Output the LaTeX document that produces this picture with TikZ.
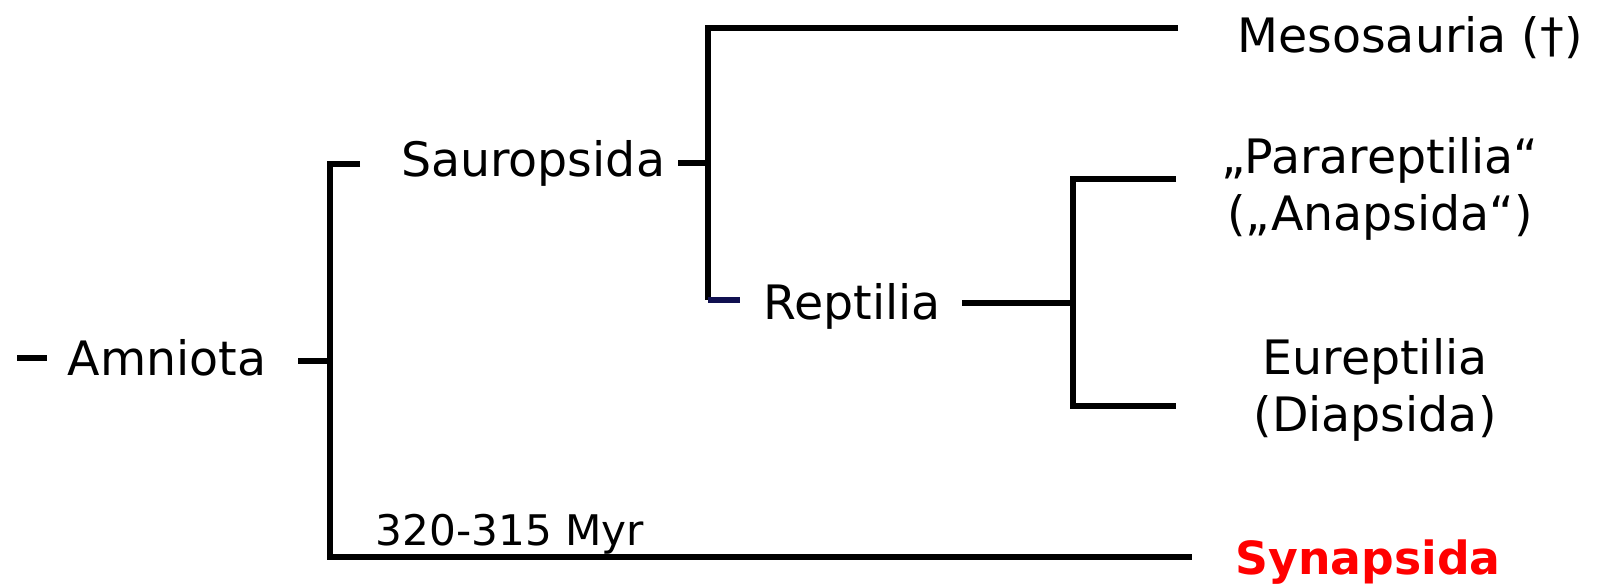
\documentclass[tikz,border=0pt]{standalone}
\usepackage{fontspec}
\setmainfont{DejaVu Sans}
\usetikzlibrary{positioning}
\definecolor{stubnavy}{RGB}{16,16,80}
\definecolor{synred}{RGB}{255,0,0}

\begin{document}
\begin{tikzpicture}[x=0.02cm,y=-0.02cm,line width=3.1pt,
    taxon/.style={inner sep=0pt,align=center,font=\fontsize{27}{32.4}\selectfont}]
   \useasboundingbox (0,0) rectangle (1602,588);

   % labels
   \node[taxon,anchor=base] (amniota) at (167,375) {Amniota};
   \node[taxon,anchor=base] (sauropsida) at (533,176) {Sauropsida};
   \node[taxon,anchor=base] (reptilia) at (852,319) {Reptilia};
   \node[taxon,anchor=base] (mesosauria) at (1410,53) {Mesosauria (†)};
   \node[taxon] (parareptilia) at (1380,189) {„Parareptilia“\\(„Anapsida“)};
   \node[taxon] (eureptilia) at (1375,390) {Eureptilia\\(Diapsida)};
   \node[taxon,anchor=base,font=\fontsize{26}{30}\selectfont\bfseries,text=synred] (synapsida) at (1368,574) {Synapsida};
   \node[taxon,anchor=base,font=\fontsize{24}{28}\selectfont] (age) at (510,545) {320-315 Myr};

   % branch points
   \coordinate (stem) at (17,358);
   \coordinate (stemend) at (47,358);
   \coordinate (amniotaout) at (298,361);
   \coordinate (root) at (330,361);
   \coordinate (sauroin) at (360,164);
   \coordinate (sauroknee) at (330,164);
   \coordinate (synknee) at (330,557);
   \coordinate (synend) at (1192,557);
   \coordinate (sauroout) at (678,163);
   \coordinate (saurojoin) at (708,163);
   \coordinate (mesoknee) at (708,28);
   \coordinate (mesoend) at (1178,28);
   \coordinate (repknee) at (708,300);
   \coordinate (repin) at (740,300);
   \coordinate (repout) at (962,303);
   \coordinate (repjoin) at (1073,303);
   \coordinate (paraknee) at (1073,179);
   \coordinate (paraend) at (1176,179);
   \coordinate (euknee) at (1073,406);
   \coordinate (euend) at (1176,406);

   \draw (stem) -- (stemend);
   \draw (amniotaout) -- (root);
   \draw (sauroin) -- (sauroknee) -- (synknee) -- (synend);
   \draw (sauroout) -- (saurojoin);
   \draw (mesoend) -- (mesoknee) -- (repknee);
   \draw[stubnavy] (repknee) -- (repin);
   \draw (repout) -- (repjoin);
   \draw (paraend) -- (paraknee) -- (euknee) -- (euend);
 \end{tikzpicture}
\end{document}
